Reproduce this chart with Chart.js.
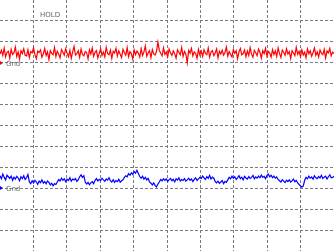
<!DOCTYPE html>
<html>
<head>
<meta charset="utf-8">
<script src="https://cdn.jsdelivr.net/npm/chart.js@4/dist/chart.umd.min.js"></script>
<style>
  html, body { margin: 0; padding: 0; background: #ffffff; overflow: hidden; }
  #scope { display: block; }
</style>
</head>
<body>
<canvas id="scope" width="334" height="251"></canvas>
<script>
// Screen divisions
const xDivisions = 10;
const yDivisions = 12;

// Ground marker levels (in divisions from bottom)
const redGnd = 9;
const blueGnd = 3;

// Channel 1 (red) samples, divisions above its ground marker
const redValues = [
  0.42,0.60,0.35,0.70,0.28,0.50,0.55,0.22,0.64,0.40,0.48,0.75,
  0.30,0.52,0.18,0.58,0.44,0.66,0.36,0.33,0.62,0.25,0.54,0.47,
  0.71,0.39,0.20,0.56,0.49,0.61,0.27,0.43,0.68,0.34,0.52,0.15,
  0.58,0.45,0.38,0.73,0.30,0.55,0.41,0.24,0.63,0.50,0.36,0.67,
  0.46,0.29,0.59,0.21,0.52,0.78,0.37,0.44,0.57,0.26,0.65,0.40,
  0.33,0.54,0.48,0.19,0.62,0.42,0.70,0.31,0.50,0.58,0.23,0.45,
  0.66,0.35,0.51,0.28,0.74,0.43,0.38,0.60,0.22,0.55,0.47,0.69,
  0.32,0.57,0.41,0.25,0.64,0.49,0.36,0.72,0.29,0.53,0.44,0.18,
  0.61,0.39,0.56,0.46,0.27,0.68,0.34,0.52,0.80,0.31,0.47,0.58,
  0.24,0.63,0.42,0.37,0.55,0.99,0.60,0.45,0.33,0.71,0.40,0.51,
  0.28,0.66,0.48,0.35,0.57,0.43,0.22,0.62,0.50,0.38,0.73,0.30,
  0.54,0.41,0.00,0.59,0.46,0.69,0.33,0.52,0.44,0.21,0.64,0.37,
  0.56,0.30,0.62,0.45,0.39,0.70,0.27,0.51,0.58,0.34,0.47,0.66,
  0.23,0.55,0.42,0.60,0.36,0.49,0.75,0.31,0.53,0.40,0.28,0.63,
  0.45,0.57,0.19,0.52,0.68,0.38,0.44,0.61,0.29,0.56,0.35,0.72,
  0.41,0.26,0.59,0.48,0.34,0.65,0.50,0.22,0.58,0.43,0.69,0.32,
  0.54,0.46,0.27,0.63,0.39,0.57,0.30,0.71,0.44,0.25,0.60,0.49,
  0.36,0.67,0.42,0.53,0.20,0.58,0.47,0.34,0.74,0.40,0.55,0.29,
  0.62,0.37,0.50,0.24,0.66,0.43,0.57,0.31,0.48,0.70,0.35,0.52,
  0.28,0.61,0.45,0.39,0.64,0.22,0.56,0.47,0.68,0.33,0.51,0.44
];

// Channel 2 (blue) samples, divisions above its ground marker
const blueValues = [
  0.60,0.45,0.68,0.52,0.40,0.62,0.55,0.47,0.58,0.38,0.53,0.44,
  0.57,0.49,0.36,0.55,0.46,0.60,0.42,0.51,0.66,0.30,0.22,0.36,
  0.25,0.38,0.30,0.18,0.34,0.27,0.40,0.24,0.32,0.21,0.35,0.28,
  0.16,0.24,0.12,0.22,0.18,0.30,0.42,0.35,0.48,0.38,0.45,0.31,
  0.43,0.37,0.50,0.34,0.44,0.40,0.47,0.33,0.41,0.55,0.64,0.52,
  0.60,0.30,0.20,0.28,0.17,0.26,0.32,0.22,0.38,0.46,0.35,0.43,
  0.37,0.48,0.40,0.33,0.45,0.39,0.50,0.36,0.30,0.41,0.28,0.37,
  0.32,0.43,0.29,0.36,0.40,0.52,0.60,0.55,0.70,0.62,0.74,0.66,
  0.80,0.72,0.86,0.70,0.56,0.48,0.58,0.44,0.52,0.40,0.47,0.30,
  0.24,0.16,0.26,0.14,0.06,0.20,0.30,0.42,0.36,0.46,0.38,0.44,
  0.33,0.41,0.47,0.36,0.43,0.30,0.45,0.39,0.50,0.35,0.42,0.37,
  0.46,0.34,0.40,0.48,0.38,0.44,0.32,0.42,0.50,0.37,0.45,0.52,
  0.46,0.58,0.50,0.42,0.56,0.47,0.62,0.44,0.53,0.48,0.32,0.26,
  0.34,0.24,0.30,0.37,0.22,0.33,0.28,0.40,0.52,0.45,0.58,0.48,
  0.55,0.42,0.50,0.60,0.46,0.53,0.40,0.57,0.49,0.44,0.56,0.47,
  0.52,0.61,0.45,0.54,0.48,0.58,0.50,0.63,0.52,0.57,0.46,0.60,
  0.68,0.55,0.62,0.50,0.58,0.48,0.54,0.42,0.36,0.30,0.41,0.34,
  0.27,0.38,0.32,0.40,0.29,0.35,0.44,0.31,0.37,0.26,0.18,0.12,
  0.05,0.10,0.38,0.52,0.45,0.58,0.48,0.54,0.43,0.60,0.50,0.46,
  0.56,0.49,0.62,0.47,0.53,0.58,0.44,0.55,0.64,0.50,0.52,0.57
];

// Turn samples into {x, y} points spread across the screen
function toPoints(values, gnd) {
  const last = values.length - 1;
  return values.map((v, i) => ({ x: (i * xDivisions) / last, y: gnd + v }));
}

// Hide grid lines sitting on the screen edges
function gridColor(max) {
  return (ctx) => {
    const v = ctx.tick ? ctx.tick.value : 0;
    return v <= 0 || v >= max ? "rgba(0,0,0,0)" : "#7a7a80";
  };
}

// Screen labels: HOLD and the ground markers
const scopeLabels = {
  id: "scopeLabels",
  beforeDatasetsDraw(chart) {
    const { ctx, scales } = chart;
    ctx.save();
    ctx.font = "7px 'DejaVu Sans', sans-serif";
    ctx.fillStyle = "#666666";
    ctx.textBaseline = "middle";
    ctx.fillText("HOLD", 40, 15);

    const markers = [
      { level: redGnd, color: "#ff0000" },
      { level: blueGnd, color: "#0000ff" },
    ];
    markers.forEach((m) => {
      const y = Math.round(scales.y.getPixelForValue(m.level));
      ctx.fillStyle = m.color;
      ctx.beginPath();
      ctx.moveTo(0, y - 2);
      ctx.lineTo(3, y);
      ctx.lineTo(0, y + 2);
      ctx.closePath();
      ctx.fill();
      ctx.fillStyle = "#6e6e6e";
      ctx.fillText("Gnd", 6, y + 1);
    });
    ctx.restore();
  },
};

// Chart
const scope = new Chart(document.getElementById("scope").getContext("2d"), {
  type: "line",
  data: {
    datasets: [
      {
        label: "CH1",
        data: toPoints(redValues, redGnd),
        borderColor: "#ff0000",
        borderWidth: 1.2,
        pointRadius: 0,
        tension: 0,
      },
      {
        label: "CH2",
        data: toPoints(blueValues, blueGnd),
        borderColor: "#0000ff",
        borderWidth: 1.2,
        pointRadius: 0,
        tension: 0,
      },
    ],
  },
  options: {
    responsive: false,
    animation: false,
    events: [],
    layout: { padding: 0 },
    plugins: {
      legend: { display: false },
      tooltip: { enabled: false },
    },
    scales: {
      x: {
        type: "linear",
        min: 0,
        max: xDivisions,
        ticks: { display: false, stepSize: 1 },
        grid: { color: gridColor(xDivisions), drawTicks: false, lineWidth: 1 },
        border: { display: false, dash: [3, 2] },
      },
      y: {
        type: "linear",
        min: 0,
        max: yDivisions,
        ticks: { display: false, stepSize: 1 },
        grid: { color: gridColor(yDivisions), drawTicks: false, lineWidth: 1 },
        border: { display: false, dash: [3, 2] },
      },
    },
  },
  plugins: [scopeLabels],
});
</script>
</body>
</html>
